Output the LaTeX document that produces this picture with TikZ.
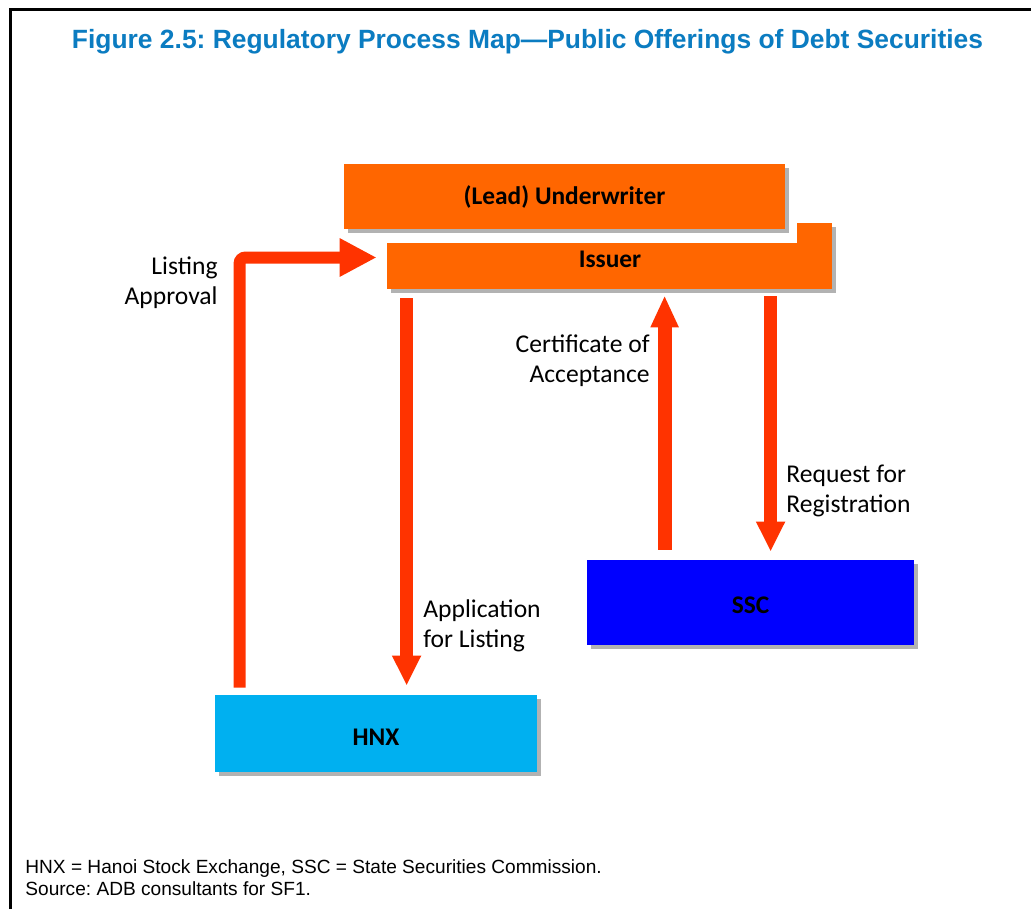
\documentclass[tikz,border=0pt]{standalone}
\usepackage{fontspec}
\setmainfont{Carlito}
\newfontfamily\arialfont{Liberation Sans}
\usetikzlibrary{arrows.meta,calc,shadows}
\definecolor{boxorange}{HTML}{FF6600}
\definecolor{hnxcyan}{HTML}{00B0F0}
\definecolor{sscblue}{HTML}{0000FF}
\definecolor{arrowred}{HTML}{FF3300}
\definecolor{titleblue}{HTML}{0B7CC1}
\frenchspacing
\tikzset{
  procbox/.style={rectangle, inner sep=0pt, font=\fontsize{12.7pt}{15pt}\selectfont\bfseries,
    drop shadow={shadow xshift=2pt, shadow yshift=-2pt, opacity=0.3, fill=black}},
  flowlabel/.style={inner sep=0pt, font=\fontsize{12.8pt}{15pt}\selectfont},
  flow/.style={draw=arrowred, line width=#1},
}
\begin{document}
\begin{tikzpicture}[x=0.5pt, y=-0.5pt]
\useasboundingbox (0,0) rectangle (1031,909);
\fill[white] (0,0) rectangle (1031,909);
% frame
\draw[line width=1.3pt] (10.5,909) -- (10.5,9.7) -- (1031,9.7);
% title
\node[titleblue, font=\arialfont\fontsize{13.2pt}{16pt}\selectfont\bfseries] (title) at (527.5,42)
  {Figure 2.5: Regulatory Process Map—Public Offerings of Debt Securities};
% boxes
\node[procbox, fill=boxorange, minimum width=222.5pt, minimum height=33pt] (iss) at (609.5,256) {};
\fill[white] (332,150) rectangle (797,243);
\node[procbox, fill=boxorange, minimum width=220.5pt, minimum height=32.5pt] (uw) at (564.5,196.5) {(Lead) Underwriter};
\node[font=\fontsize{12.7pt}{15pt}\selectfont\bfseries] (isstext) at (610,259) {Issuer};
\node[procbox, fill=hnxcyan, minimum width=161pt, minimum height=38.5pt] (hnx) at (376,733.5) {};
\node[font=\fontsize{12.7pt}{15pt}\selectfont\bfseries] (hnxtext) at (376,737) {HNX};
\node[procbox, fill=sscblue, minimum width=163.5pt, minimum height=42.5pt] (ssc) at (750.5,602.5) {};
\node[font=\fontsize{12.7pt}{15pt}\selectfont\bfseries] (ssctext) at (750.5,605) {SSC};
% arrows
\draw[flow=6pt, rounded corners=3pt, -{Triangle[length=18.5pt, width=18pt]}]
  ($(hnx.north west)+(25,-7)$) |- ($(iss.west)+(-10,1.5)$);
\draw[flow=6.5pt, -{Triangle[length=15pt, width=13.5pt]}]
  ($(iss.south west)+(20,9)$) -- ($(hnx.north west)+(192,-9)$);
\draw[flow=7pt, -{Triangle[length=16pt, width=13pt]}]
  ($(ssc.north west)+(78,-10)$) -- ($(iss.south west)+(278,6)$);
\draw[flow=6.5pt, -{Triangle[length=15pt, width=13.5pt]}]
  ($(iss.south west)+(384,7)$) -- ($(ssc.north west)+(184,-8)$);
% labels
\node[flowlabel, anchor=east, align=right] (lablisting) at (218,283) {Listing\\Approval};
\node[flowlabel, anchor=east, align=right] (labcert) at (650,361) {Certificate of\\Acceptance};
\node[flowlabel, anchor=west, align=left] (labreq) at (786,491) {Request for\\Registration};
\node[flowlabel, anchor=west, align=left] (labapp) at (423,626) {Application\\for Listing};
% footnote
\node[anchor=north west, inner sep=0pt, align=left, font=\arialfont\fontsize{9.55pt}{11pt}\selectfont] (foot) at (25,859)
  {HNX = Hanoi Stock Exchange, SSC = State Securities Commission.\\Source: ADB consultants for SF1.};
\end{tikzpicture}
\end{document}
